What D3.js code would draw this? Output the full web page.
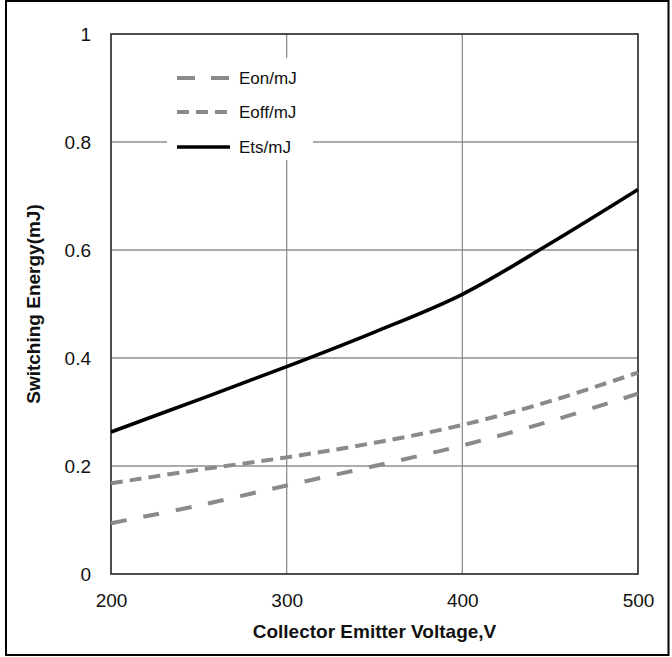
<!DOCTYPE html>
<html>
<head>
<meta charset="utf-8">
<script src="https://cdn.jsdelivr.net/npm/d3@7"></script>
<style>
  html, body { margin: 0; padding: 0; background: #fff; }
  svg { display: block; }
  text { font-family: "Liberation Sans", Arial, sans-serif; fill: #111; }
</style>
</head>
<body>
<svg id="chart" width="672" height="657"></svg>
<script>
// Collector-emitter voltage (V)
const voltages = [200, 250, 300, 350, 400, 450, 500];
// Switching energies (mJ)
const eon  = [0.094, 0.127, 0.164, 0.200, 0.238, 0.283, 0.334];
const eoff = [0.168, 0.193, 0.216, 0.243, 0.276, 0.320, 0.373];
const ets  = [0.263, 0.323, 0.384, 0.448, 0.518, 0.612, 0.712];

const xTicks = [200, 300, 400, 500];
const yTicks = [0, 0.2, 0.4, 0.6, 0.8, 1];
const yTickLabels = ["0", "0.2", "0.4", "0.6", "0.8", "1"];

const seriesNames = ["Eon/mJ", "Eoff/mJ", "Ets/mJ"];
const seriesValues = [eon, eoff, ets];

const svg = d3.select("#chart");
const plot = { left: 111, right: 638, top: 34, bottom: 574 };

const x = d3.scaleLinear().domain([200, 500]).range([plot.left, plot.right]);
const y = d3.scaleLinear().domain([0, 1]).range([plot.bottom, plot.top]);

// outer frame
svg.append("rect")
  .attr("x", 6).attr("y", 1).attr("width", 662.5).attr("height", 654)
  .attr("fill", "none").attr("stroke", "#000").attr("stroke-width", 2);

// gridlines
const grid = svg.append("g").attr("stroke", "#8f8f8f").attr("stroke-width", 1.3);
grid.selectAll("line.gx").data(xTicks.slice(1, -1)).enter().append("line")
  .attr("x1", d => x(d)).attr("x2", d => x(d))
  .attr("y1", plot.top).attr("y2", plot.bottom);
grid.selectAll("line.gy").data(yTicks.slice(1, -1)).enter().append("line")
  .attr("x1", plot.left).attr("x2", plot.right)
  .attr("y1", d => y(d)).attr("y2", d => y(d));

// axes (labels only; the plot frame is drawn separately)
const xAxis = svg.append("g")
  .attr("transform", `translate(0,${plot.bottom})`)
  .call(d3.axisBottom(x).tickValues(xTicks).tickSize(0).tickPadding(20).tickFormat(d3.format("d")));
xAxis.select(".domain").remove();
xAxis.selectAll("text").attr("font-size", 19).style("font-family", "'Liberation Sans', Arial, sans-serif").attr("fill", "#111");

const yAxis = svg.append("g")
  .attr("transform", `translate(${plot.left},0)`)
  .call(d3.axisLeft(y).tickValues(yTicks).tickSize(0).tickPadding(20)
    .tickFormat((d, i) => yTickLabels[i]));
yAxis.select(".domain").remove();
yAxis.selectAll("text").attr("font-size", 19).style("font-family", "'Liberation Sans', Arial, sans-serif").attr("fill", "#111");

// plot frame
svg.append("rect")
  .attr("x", plot.left).attr("y", plot.top)
  .attr("width", plot.right - plot.left).attr("height", plot.bottom - plot.top)
  .attr("fill", "none").attr("stroke", "#222").attr("stroke-width", 1.6);

// series
const styles = [
  { color: "#8a8a8a", width: 4, dash: "16,17" },
  { color: "#8a8a8a", width: 4, dash: "12,7" },
  { color: "#000000", width: 3.6, dash: null }
];

const line = d3.line()
  .x((d, i) => x(voltages[i]))
  .y(d => y(d))
  .curve(d3.curveCatmullRom.alpha(0.5));

seriesValues.forEach((vals, k) => {
  svg.append("path")
    .datum(vals)
    .attr("d", line)
    .attr("fill", "none")
    .attr("stroke", styles[k].color)
    .attr("stroke-width", styles[k].width)
    .attr("stroke-dasharray", styles[k].dash);
});

// legend
const legend = svg.append("g");
legend.append("rect")
  .attr("x", 167).attr("y", 58).attr("width", 146).attr("height", 102)
  .attr("fill", "#fff");
const legendY = [78, 112, 147];
seriesNames.forEach((name, k) => {
  legend.append("line")
    .attr("x1", 177).attr("x2", 230)
    .attr("y1", legendY[k]).attr("y2", legendY[k])
    .attr("stroke", styles[k].color)
    .attr("stroke-width", styles[k].width)
    .attr("stroke-dasharray", k === 0 ? "18,16" : styles[k].dash);
  legend.append("text")
    .attr("x", 239).attr("y", legendY[k])
    .attr("dominant-baseline", "central")
    .attr("font-size", 17)
    .text(name);
});

// axis titles
svg.append("text")
  .attr("x", (plot.left + plot.right) / 2).attr("y", 638)
  .attr("text-anchor", "middle")
  .attr("font-size", 19).attr("font-weight", "bold")
  .text("Collector Emitter Voltage,V");

svg.append("text")
  .attr("transform", `translate(33,${(plot.top + plot.bottom) / 2}) rotate(-90)`)
  .attr("text-anchor", "middle")
  .attr("dominant-baseline", "central")
  .attr("font-size", 19).attr("font-weight", "bold")
  .text("Switching Energy(mJ)");
</script>
</body>
</html>
